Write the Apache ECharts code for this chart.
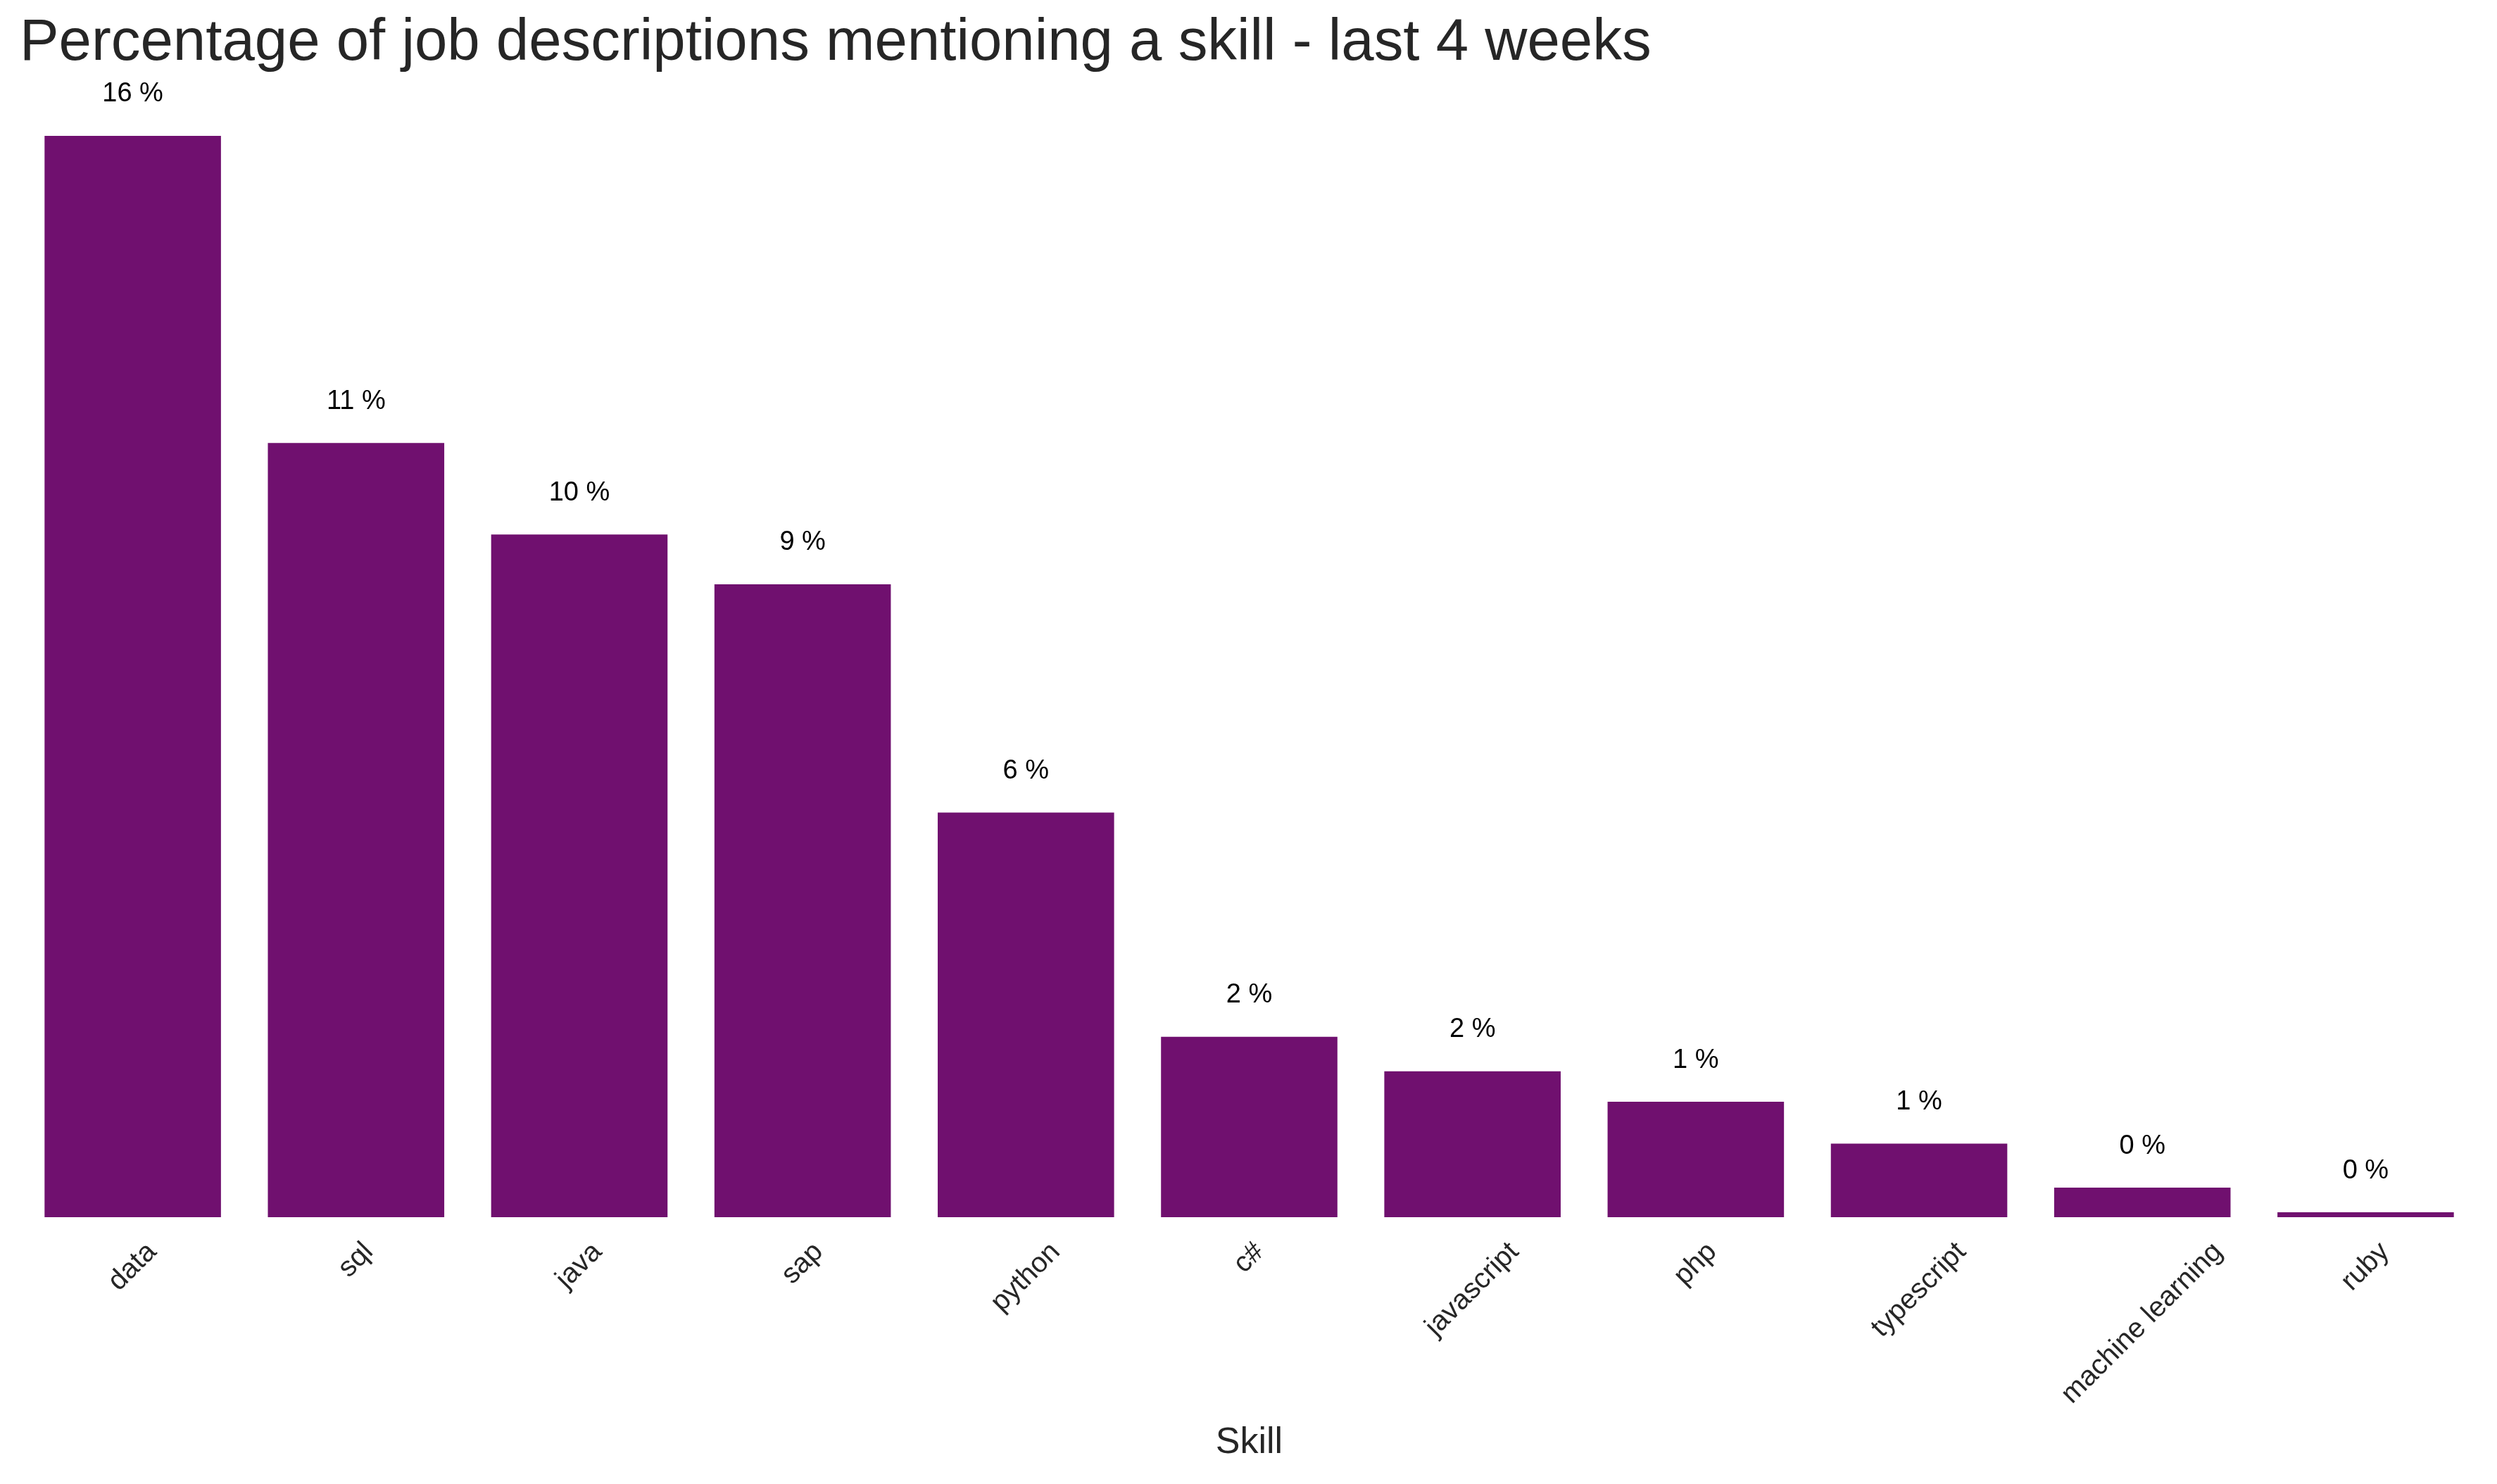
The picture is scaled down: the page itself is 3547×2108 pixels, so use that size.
<!DOCTYPE html>
<html><head><meta charset="utf-8">
<script src="https://cdn.jsdelivr.net/npm/echarts@6/dist/echarts.min.js"></script>
<style>html,body{margin:0;padding:0;background:#fff}#c{width:3547px;height:2108px}</style>
</head><body><div id="c"></div>
<script>
const skills = ['data', 'sql', 'java', 'sap', 'python', 'c#', 'javascript', 'php', 'typescript', 'machine learning', 'ruby'];
const percentages = [16.3, 11.67, 10.29, 9.54, 6.10, 2.72, 2.20, 1.74, 1.11, 0.445, 0.074];
const titleText = 'Percentage of job descriptions mentioning a skill - last 4 weeks';
const xAxisName = 'Skill';

const FONT = "'Liberation Sans', Arial, sans-serif";
const TICK_SIZE = 40;
const ctx = document.createElement('canvas').getContext('2d');
ctx.font = TICK_SIZE + 'px ' + FONT;
// centre each 45-degree label's bounding box under its tick (matplotlib ha='center' style)
const categoryItems = skills.map(s => {
  const L = ctx.measureText(s).width;
  const k = L + TICK_SIZE;
  const padRight = k / 2;
  const padTop = Math.max(0, k / 4 - TICK_SIZE / 2);
  return {
    value: s,
    textStyle: {
      align: 'center', verticalAlign: 'top', lineHeight: TICK_SIZE,
      fontFamily: FONT, fontSize: TICK_SIZE, color: '#262626',
      padding: [padTop, padRight, 0, 0]
    }
  };
});

const chart = echarts.init(document.getElementById('c'), null, { renderer: 'canvas' });
chart.setOption({
  backgroundColor: '#ffffff',
  animation: false,
  title: {
    text: titleText,
    left: 28, top: 20, padding: 0,
    textStyle: { fontFamily: FONT, fontSize: 83.4, fontWeight: 'normal', color: '#262626' }
  },
  grid: { left: 30, right: 28, top: 127, bottom: 379, containLabel: false, outerBoundsMode: 'none' },
  xAxis: {
    type: 'category',
    data: categoryItems,
    boundaryGap: true,
    axisLine: { show: false },
    axisTick: { show: false },
    splitLine: { show: false },
    axisLabel: {
      interval: 0,
      rotate: 45,
      margin: 29,
      align: 'center',
      verticalAlign: 'top',
      hideOverlap: false,
      fontFamily: FONT,
      fontSize: TICK_SIZE,
      color: '#262626'
    },
    name: xAxisName,
    nameLocation: 'middle',
    nameGap: 295,
    nameMoveOverlap: false,
    nameTextStyle: { fontFamily: FONT, fontSize: 52, color: '#262626', verticalAlign: 'top' }
  },
  yAxis: {
    type: 'value',
    min: 0, max: 17,
    show: false,
    splitLine: { show: false }
  },
  series: [{
    type: 'bar',
    data: percentages,
    barWidth: '79%',
    itemStyle: { color: '#70106f' },
    label: {
      show: true,
      position: 'top',
      distance: 40,
      fontFamily: FONT,
      fontSize: 38,
      color: '#000000',
      formatter: p => Math.floor(p.value) + ' %'
    }
  }]
});
</script>
</body></html>
